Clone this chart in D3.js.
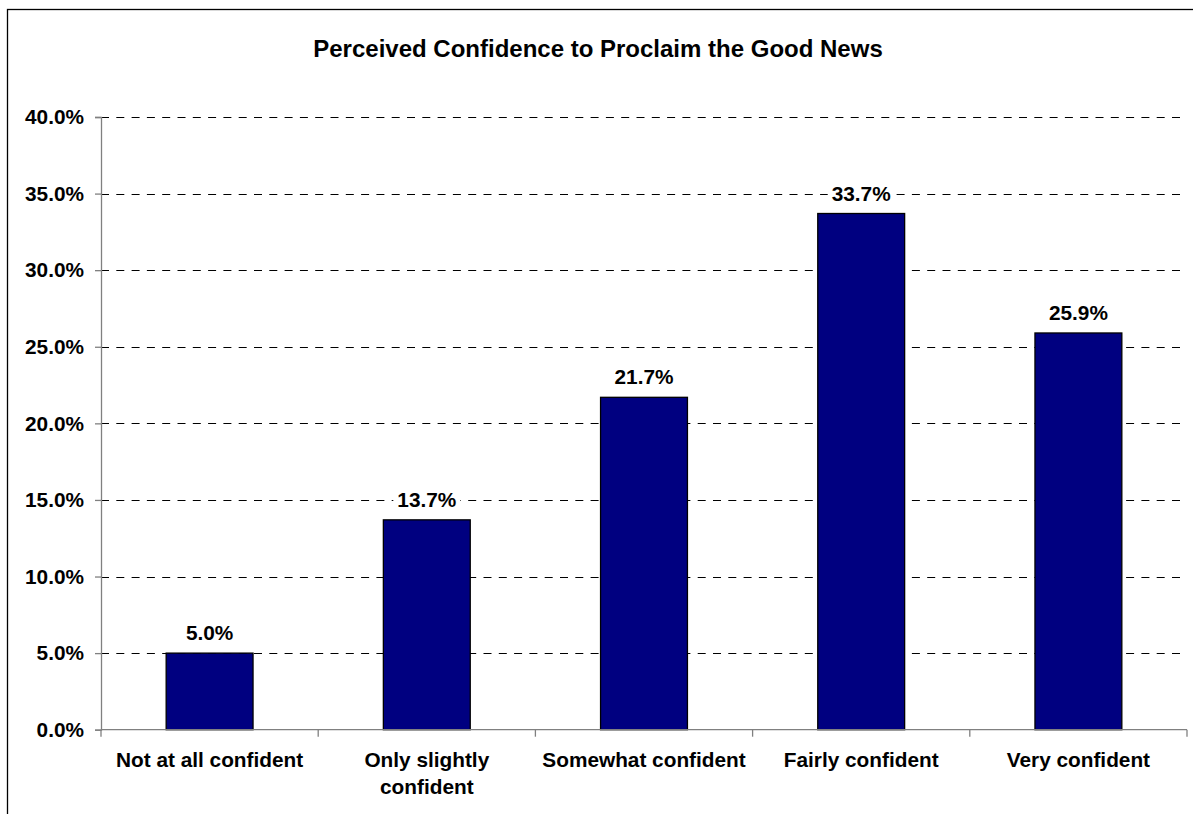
<!DOCTYPE html>
<html>
<head>
<meta charset="utf-8">
<script src="https://cdn.jsdelivr.net/npm/d3@7"></script>
<style>
  html, body { margin: 0; padding: 0; background: #fff; }
  svg { display: block; }
  text { font-family: Arial, "Liberation Sans", sans-serif; font-weight: bold; fill: #000; }
</style>
</head>
<body>
<script>
// Survey responses: share of respondents per confidence level
const categories = [
  ["Not at all confident"],
  ["Only slightly", "confident"],
  ["Somewhat confident"],
  ["Fairly confident"],
  ["Very confident"]
];
const values = [5.0, 13.7, 21.7, 33.7, 25.9];
const yTicks = [0, 5, 10, 15, 20, 25, 30, 35, 40];
const title = "Perceived Confidence to Proclaim the Good News";

const W = 1193, H = 814;
const plot = { left: 101, right: 1187, top: 117, bottom: 729.7 };
const labelSize = "20.8px";

const svg = d3.select("body").append("svg")
  .attr("width", W).attr("height", H);

// outer chart frame
svg.append("rect")
  .attr("x", 7.5).attr("y", 9.5)
  .attr("width", W + 20).attr("height", H + 20)
  .attr("fill", "#fff").attr("stroke", "#000").attr("stroke-width", 1.3);

const x = d3.scaleBand()
  .domain(d3.range(categories.length))
  .range([plot.left, plot.right])
  .paddingInner(0.6).paddingOuter(0.3);

const xOuter = d3.scaleBand()
  .domain(d3.range(categories.length))
  .range([plot.left, plot.right]);

const y = d3.scaleLinear().domain([0, 40]).range([plot.bottom, plot.top]);

// title, centred on the chart frame
svg.append("text")
  .attr("x", 598)
  .attr("y", 57)
  .attr("text-anchor", "middle")
  .style("font-size", "24px")
  .text(title);

// dashed horizontal gridlines
svg.append("g")
  .selectAll("line")
  .data(yTicks.filter(d => d > 0))
  .join("line")
  .attr("x1", plot.left).attr("x2", plot.right)
  .attr("y1", d => Math.round(y(d)) + 0.5).attr("y2", d => Math.round(y(d)) + 0.5)
  .attr("stroke", "#000").attr("stroke-width", 1)
  .attr("stroke-dasharray", "8,7.3");

// y axis
const yAxis = d3.axisLeft(y)
  .tickValues(yTicks)
  .tickSize(6)
  .tickPadding(11)
  .tickFormat(d => d3.format(".1f")(d) + "%");

const gy = svg.append("g")
  .attr("transform", `translate(${plot.left},0)`)
  .call(yAxis);
gy.select(".domain").attr("stroke", "#808080").attr("stroke-width", 1.3);
gy.selectAll(".tick line").attr("stroke", "#808080").attr("stroke-width", 1.3);
gy.selectAll(".tick text")
  .style("font-size", labelSize)
  .style("font-family", "Arial, 'Liberation Sans', sans-serif")
  .style("font-weight", "bold")
  .attr("fill", "#000");

// bars
svg.append("g")
  .selectAll("rect")
  .data(values)
  .join("rect")
  .attr("x", (d, i) => x(i))
  .attr("width", x.bandwidth())
  .attr("y", d => y(d))
  .attr("height", d => y(0) - y(d))
  .attr("fill", "#000080")
  .attr("stroke", "#000")
  .attr("stroke-width", 1.3);

// value labels on white boxes so gridlines stop at the text
const vl = svg.append("g")
  .selectAll("g")
  .data(values)
  .join("g");
vl.append("rect").attr("fill", "#fff");
vl.append("text")
  .attr("x", (d, i) => x(i) + x.bandwidth() / 2)
  .attr("y", d => y(d) - 13)
  .attr("text-anchor", "middle")
  .style("font-size", labelSize)
  .text(d => d3.format(".1f")(d) + "%");
vl.each(function () {
  const g = d3.select(this);
  const b = g.select("text").node().getBBox();
  g.select("rect")
    .attr("x", b.x - 4).attr("y", b.y)
    .attr("width", b.width + 8).attr("height", b.height);
});

// x axis line and boundary ticks
const gx = svg.append("g");
gx.append("line")
  .attr("x1", plot.left).attr("x2", plot.right)
  .attr("y1", plot.bottom).attr("y2", plot.bottom)
  .attr("stroke", "#808080").attr("stroke-width", 1.3);
const bounds = d3.range(categories.length + 1).map(i =>
  i < categories.length ? xOuter(i) : xOuter(i - 1) + xOuter.bandwidth());
gx.selectAll("line.tk")
  .data(bounds)
  .join("line")
  .attr("class", "tk")
  .attr("x1", d => d).attr("x2", d => d)
  .attr("y1", plot.bottom).attr("y2", plot.bottom + 7)
  .attr("stroke", "#808080").attr("stroke-width", 1.3);

// category labels
const labels = svg.append("g")
  .selectAll("text")
  .data(categories)
  .join("text")
  .attr("text-anchor", "middle")
  .style("font-size", labelSize)
  .attr("transform", (d, i) => `translate(${xOuter(i) + xOuter.bandwidth() / 2},767)`);
labels.selectAll("tspan")
  .data(d => d)
  .join("tspan")
  .attr("x", 0)
  .attr("dy", (d, j) => j === 0 ? 0 : 27)
  .text(d => d);
</script>
</body>
</html>
